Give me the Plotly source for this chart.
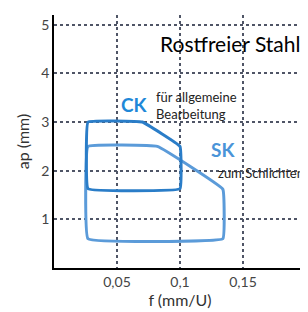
import plotly.graph_objects as go

# CK region (für allgemeine Bearbeitung)
ck_f = [0.027, 0.027, 0.07, 0.1, 0.1, 0.027]
ck_ap = [1.63, 3.0, 3.0, 2.5, 1.63, 1.63]
# SK region (zum Schlichten)
sk_f = [0.027, 0.027, 0.082, 0.134, 0.134, 0.027]
sk_ap = [0.6, 2.5, 2.5, 1.62, 0.6, 0.6]

x_ticks = [0.05, 0.1, 0.15]
x_ticktext = ["0,05", "0,1", "0,15"]
y_ticks = [1, 2, 3, 4, 5]

FONT = "Lato"

fig = go.Figure()
fig.add_trace(go.Scatter(x=sk_f, y=sk_ap, mode="lines",
                         line=dict(color="#5b9bd9", width=3, shape="spline", smoothing=0.2),
                         hoverinfo="skip", showlegend=False))
fig.add_trace(go.Scatter(x=ck_f, y=ck_ap, mode="lines",
                         line=dict(color="#2a7dc8", width=3, shape="spline", smoothing=0.2),
                         hoverinfo="skip", showlegend=False))

fig.add_annotation(x=0.1965, xanchor="right", y=4.62, yref="y",
                   text="Rostfreier Stahl", showarrow=False,
                   font=dict(family=FONT, size=21, color="#000"))
fig.add_annotation(x=0.0635, y=3.37, text="<b>CK</b>", showarrow=False,
                   font=dict(family=FONT, size=19, color="#1f88d8"))
fig.add_annotation(x=0.0795, y=3.33, xanchor="left", align="left",
                   text="für allgemeine<br>Bearbeitung", showarrow=False,
                   font=dict(family=FONT, size=13, color="#222"))
fig.add_annotation(x=0.134, y=2.43, text="<b>SK</b>", showarrow=False,
                   font=dict(family=FONT, size=19, color="#4a94d8"))
fig.add_annotation(x=0.2, y=1.95, xanchor="right",
                   text="zum Schlichten", showarrow=False,
                   font=dict(family=FONT, size=13, color="#222"))

grid = dict(showgrid=True, gridcolor="#4f5566", gridwidth=2, griddash="dot")
fig.update_xaxes(range=[0, 0.2], tickvals=x_ticks, ticktext=x_ticktext,
                 showline=True, linecolor="#000", linewidth=1.5, zeroline=False,
                 ticks="", tickfont=dict(family=FONT, size=14, color="#444"),
                 title=dict(text="f (mm/U)", font=dict(family=FONT, size=16, color="#333"), standoff=6),
                 **grid)
fig.update_yaxes(range=[0, 5.2], tickvals=y_ticks,
                 showline=True, linecolor="#000", linewidth=1.5, zeroline=False,
                 ticks="", tickfont=dict(family=FONT, size=14, color="#444"),
                 title=dict(text="ap (mm)", font=dict(family=FONT, size=16, color="#333"), standoff=8),
                 **grid)
# page body has an 8px margin: shrink figure so plot area lands at the reference position
fig.update_layout(width=300, height=304, margin=dict(l=46, r=2, t=7, b=44),
                  plot_bgcolor="white", paper_bgcolor="white")
fig.write_html("out.html")
